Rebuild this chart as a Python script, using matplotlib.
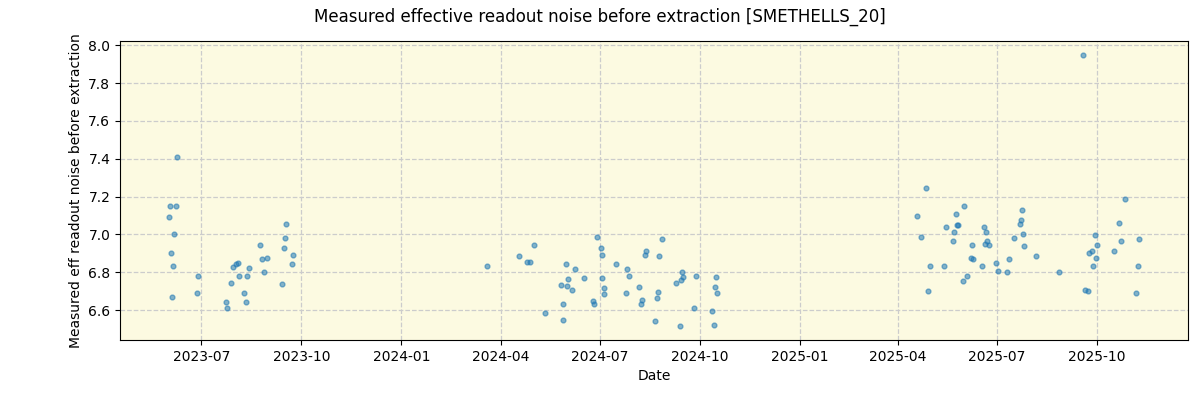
import numpy as np
import pandas as pd
import matplotlib
matplotlib.use('Agg')
import matplotlib.pyplot as plt
import matplotlib.dates as mdates

dates = [
    # 2023
    '2023-06-09', '2023-06-02', '2023-06-08', '2023-06-01', '2023-06-06', '2023-06-03',
    '2023-06-05', '2023-06-04', '2023-06-28', '2023-06-27', '2023-07-24', '2023-07-25',
    '2023-07-28', '2023-07-30', '2023-08-02', '2023-08-04', '2023-08-05', '2023-08-09',
    '2023-08-11', '2023-08-12', '2023-08-14', '2023-08-24', '2023-08-26', '2023-08-30',
    '2023-08-28', '2023-09-13', '2023-09-15', '2023-09-16', '2023-09-17', '2023-09-23',
    '2023-09-22',
    # 2024
    '2024-03-20', '2024-04-18', '2024-04-25', '2024-04-28', '2024-05-02', '2024-05-12',
    '2024-05-27', '2024-05-28', '2024-05-28', '2024-05-31', '2024-06-01', '2024-06-02',
    '2024-06-06', '2024-06-08', '2024-06-17', '2024-06-25', '2024-06-26', '2024-06-29',
    '2024-07-02', '2024-07-03', '2024-07-03', '2024-07-05', '2024-07-05', '2024-07-16',
    '2024-07-25', '2024-07-26', '2024-07-28', '2024-08-06', '2024-08-08', '2024-08-09',
    '2024-08-12', '2024-08-13', '2024-08-21', '2024-08-23', '2024-08-24', '2024-08-25',
    '2024-08-27', '2024-09-09', '2024-09-13', '2024-09-14', '2024-09-15', '2024-09-16',
    '2024-09-26', '2024-09-28', '2024-10-12', '2024-10-14', '2024-10-15', '2024-10-16',
    '2024-10-17',
    # 2025
    '2025-04-19', '2025-04-27', '2025-04-22', '2025-04-29', '2025-05-01', '2025-05-13',
    '2025-05-15', '2025-05-22', '2025-05-23', '2025-05-24', '2025-05-25', '2025-05-26',
    '2025-05-31', '2025-06-01', '2025-06-04', '2025-06-07', '2025-06-08', '2025-06-09',
    '2025-06-17', '2025-06-19', '2025-06-20', '2025-06-21', '2025-06-22', '2025-06-24',
    '2025-06-30', '2025-07-02', '2025-07-10', '2025-07-12', '2025-07-17', '2025-07-22',
    '2025-07-23', '2025-07-24', '2025-07-25', '2025-07-26', '2025-08-06', '2025-08-27',
    '2025-09-18', '2025-09-20', '2025-09-23', '2025-09-24', '2025-09-26', '2025-09-27',
    '2025-09-29', '2025-09-30', '2025-10-01', '2025-10-17', '2025-10-21', '2025-10-23',
    '2025-10-27', '2025-11-06', '2025-11-08', '2025-11-09',
]

noise = [
    # 2023
    7.412, 7.148, 7.153, 7.090, 7.005, 6.900,
    6.831, 6.667, 6.778, 6.688, 6.641, 6.609,
    6.746, 6.826, 6.842, 6.847, 6.783, 6.688,
    6.641, 6.783, 6.822, 6.942, 6.873, 6.878,
    6.799, 6.736, 6.926, 6.984, 7.058, 6.889,
    6.842,
    # 2024
    6.836, 6.884, 6.852, 6.852, 6.942, 6.583,
    6.731, 6.635, 6.546, 6.842, 6.725, 6.762,
    6.704, 6.815, 6.768, 6.646, 6.635, 6.989,
    6.926, 6.894, 6.768, 6.715, 6.683, 6.842,
    6.688, 6.820, 6.778, 6.720, 6.630, 6.651,
    6.894, 6.915, 6.540, 6.662, 6.694, 6.884,
    6.974, 6.741, 6.514, 6.757, 6.799, 6.773,
    6.609, 6.783, 6.593, 6.519, 6.720, 6.773,
    6.688,
    # 2025
    7.100, 7.248, 6.989, 6.699, 6.831, 6.831,
    7.042, 6.963, 7.011, 7.106, 7.048, 7.048,
    6.752, 7.153, 6.778, 6.878, 6.942, 6.873,
    6.836, 7.037, 6.952, 7.011, 6.963, 6.947,
    6.847, 6.805, 6.799, 6.868, 6.979, 7.053,
    7.079, 7.132, 7.000, 6.937, 6.884, 6.799,
    7.951, 6.709, 6.699, 6.900, 6.915, 6.831,
    6.995, 6.878, 6.947, 6.915, 7.063, 6.968,
    7.190, 6.688, 6.831, 6.974,
]

x = pd.to_datetime(dates)

fig = plt.figure(figsize=(12, 4), dpi=100)
ax = fig.add_axes([0.1, 0.15, 0.89, 0.7475])
ax.set_facecolor('#fcfae1')
ax.scatter(x, noise, s=12, color='tab:blue', alpha=0.55, zorder=3)
ax.grid(True, linestyle='--', color='#cccccc', linewidth=0.9)
ax.set_axisbelow(True)
ax.xaxis.set_major_locator(mdates.MonthLocator(bymonth=[1, 4, 7, 10]))
ax.xaxis.set_major_formatter(mdates.DateFormatter('%Y-%m'))
ax.set_xlabel('Date')
ax.set_ylabel('Measured eff readout noise before extraction')
fig.suptitle('Measured effective readout noise before extraction [SMETHELLS_20]', y=0.98)

fig.savefig('out.png', dpi=100)
